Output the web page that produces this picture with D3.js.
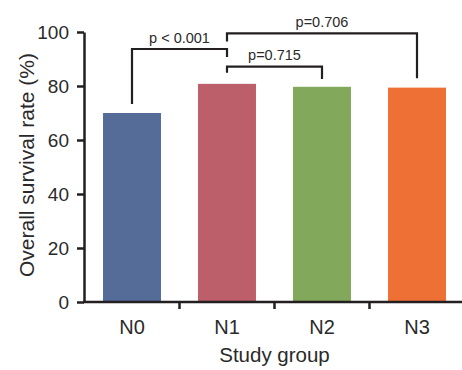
<!DOCTYPE html>
<html>
<meta charset="utf-8">
<style>
  body { margin: 0; padding: 0; background: #fff; }
  text { font-family: "Liberation Sans", Arial, sans-serif; fill: #2a2a2a; }
  .axis path, .axis line { stroke: #231f20; stroke-width: 2.5; }
  .bracket { fill: none; stroke: #231f20; stroke-width: 2.2; }
</style>
<body>
<div id="chart"></div>
<script src="https://d3js.org/d3.v7.min.js"></script>
<script>

// data
var groups = ["N0", "N1", "N2", "N3"];
var survival = [70, 80.8, 79.7, 79.4];
var barColors = ["#556b98", "#bc5f6b", "#82a85c", "#ef7034"];
var yTicks = [0, 20, 40, 60, 80, 100];

// comparison brackets: [from, to, level, left leg end, right leg end]
var bracketFrom = ["N0", "N1", "N1"];
var bracketTo = ["N1", "N2", "N3"];
var bracketLevel = [93.7, 87.2, 99.5];
var bracketLeftEnd = [73.3, 84.9, 96.5];
var bracketRightEnd = [90.7, 82.6, 82.9];
var bracketLabels = ["p < 0.001", "p=0.715", "p=0.706"];

var W = 462, H = 370;

var svg = d3.select("#chart")
  .append("svg")
    .attr("width", W)
    .attr("height", H);

var x = d3.scaleBand()
  .domain(groups)
  .range([84.5, 464.5])
  .paddingInner(0.39)
  .paddingOuter(0.195);

var y = d3.scaleLinear()
  .domain([0, 100])
  .range([302, 32]);

// bars
svg.selectAll(".bar")
  .data(groups)
  .enter()
  .append("rect")
    .attr("class", "bar")
    .attr("x", function(d) { return x(d); })
    .attr("width", x.bandwidth())
    .attr("y", function(d, i) { return y(survival[i]); })
    .attr("height", function(d, i) { return y(0) - y(survival[i]); })
    .attr("fill", function(d, i) { return barColors[i]; });

// y axis
var yAxis = svg.append("g")
  .attr("class", "axis")
  .attr("transform", "translate(84,0)")
  .call(d3.axisLeft(y).tickValues(yTicks).tickSize(7).tickSizeOuter(0).tickPadding(8));
yAxis.selectAll("text").style("font-size", "19px");

// x axis: labels at centres, ticks on the band borders
var xAxis = svg.append("g")
  .attr("class", "axis")
  .attr("transform", "translate(0," + y(0) + ")")
  .call(d3.axisBottom(x).tickSize(0).tickSizeOuter(0).tickPadding(18));
xAxis.selectAll("text").style("font-size", "20px");
xAxis.select(".domain").attr("d", "M83,0H" + W);

var step = x.step();
xAxis.selectAll(".border-tick")
  .data(groups.slice(1))
  .enter()
  .append("line")
    .attr("class", "border-tick")
    .attr("x1", function(d) { return x(d) - step * x.paddingInner() / 2; })
    .attr("x2", function(d) { return x(d) - step * x.paddingInner() / 2; })
    .attr("y1", 0)
    .attr("y2", 7);

// axis titles
svg.append("text")
  .attr("x", 274.5)
  .attr("y", 362)
  .attr("text-anchor", "middle")
  .style("font-size", "20.5px")
  .text("Study group");

svg.append("text")
  .attr("transform", "rotate(-90)")
  .attr("x", -165)
  .attr("y", 34)
  .attr("text-anchor", "middle")
  .style("font-size", "21px")
  .text("Overall survival rate (%)");

// significance brackets
var cx = function(g) { return x(g) + x.bandwidth() / 2; };

bracketLabels.forEach(function(label, i) {
  var x1 = cx(bracketFrom[i]), x2 = cx(bracketTo[i]);
  var yl = y(bracketLevel[i]);
  svg.append("path")
    .attr("class", "bracket")
    .attr("d", "M" + x1 + "," + y(bracketLeftEnd[i]) +
               "V" + yl + "H" + x2 + "V" + y(bracketRightEnd[i]));
  svg.append("text")
    .attr("x", (x1 + x2) / 2)
    .attr("y", yl - 6.5)
    .attr("text-anchor", "middle")
    .style("font-size", "14.5px")
    .text(label);
});

</script>
</body>
</html>
